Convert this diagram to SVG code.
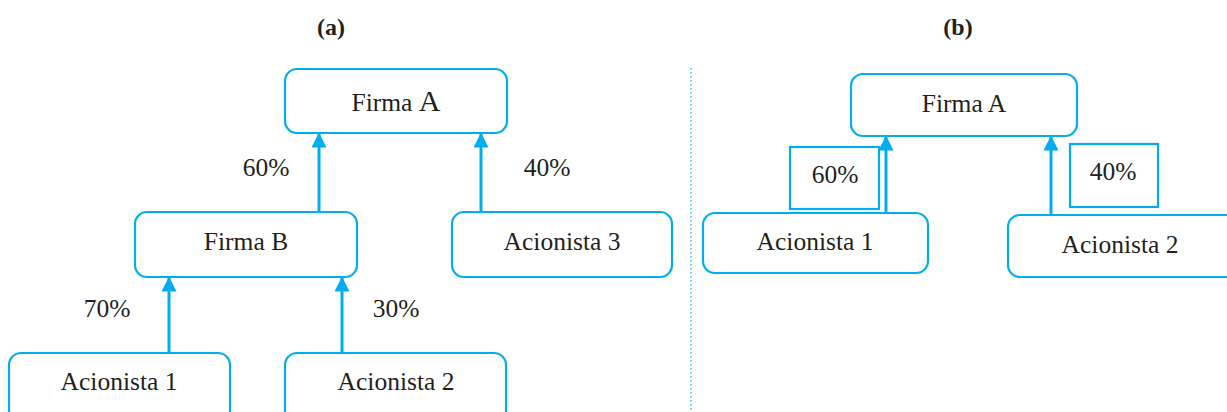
<svg xmlns="http://www.w3.org/2000/svg" width="1227" height="412" viewBox="0 0 1227 412">
<style>
.box{fill:#fff;stroke:#00aeef;stroke-width:2.2}
.lbl{fill:#fff;stroke:#00aeef;stroke-width:2.2}
.t{font-family:'Liberation Serif',serif;font-size:25.5px;fill:#231f20;text-anchor:middle}
.h{font-family:'Liberation Serif',serif;font-size:24px;font-weight:bold;fill:#231f20;text-anchor:middle}
.c{stroke:#00aeef;stroke-width:3;fill:none;marker-end:url(#ah)}
</style>
<defs>
<marker id="ah" viewBox="0 0 10 10" refX="9" refY="5" markerWidth="5" markerHeight="5" markerUnits="strokeWidth" orient="auto">
<path d="M0,0 L10,5 L0,10 z" fill="#00aeef"/>
</marker>
</defs>
<rect width="1227" height="412" fill="#fff"/>
<text class="h" x="331" y="35">(a)</text>
<text class="h" x="958" y="35">(b)</text>
<line x1="691" y1="68" x2="691" y2="412" stroke="#00aeef" stroke-width="1.2" stroke-dasharray="1.5,2.5"/>
<g id="connectors">
<line class="c" x1="319" y1="212" x2="319" y2="134"/>
<line class="c" x1="481" y1="212" x2="481" y2="134"/>
<line class="c" x1="169" y1="353" x2="169" y2="278"/>
<line class="c" x1="342" y1="353" x2="342" y2="278"/>
<line class="c" x1="886" y1="213" x2="886" y2="137"/>
<line class="c" x1="1051" y1="215" x2="1051" y2="137"/>
</g>
<g id="a-firmaA"><rect class="box" x="285" y="69" width="222" height="64" rx="12"/><text class="t" x="396" y="111">Firma <tspan font-size="30">A</tspan></text></g>
<g id="a-firmaB"><rect class="box" x="135" y="212" width="222" height="65" rx="12"/><text class="t" x="246" y="250">Firma B</text></g>
<g id="a-acionista3"><rect class="box" x="452" y="212" width="220" height="65" rx="12"/><text class="t" x="562" y="250">Acionista 3</text></g>
<g id="a-acionista1"><rect class="box" x="9" y="353" width="221" height="70" rx="12"/><text class="t" x="119" y="390">Acionista 1</text></g>
<g id="a-acionista2"><rect class="box" x="285" y="353" width="221" height="70" rx="12"/><text class="t" x="396" y="390">Acionista 2</text></g>
<g id="a-labels">
<text class="t" x="266" y="176">60%</text>
<text class="t" x="547" y="176">40%</text>
<text class="t" x="107" y="317">70%</text>
<text class="t" x="396" y="317">30%</text>
</g>
<g id="b-firmaA"><rect class="box" x="851" y="74" width="226" height="62" rx="12"/><text class="t" x="964" y="112">Firma A</text></g>
<g id="b-acionista1"><rect class="box" x="703" y="213" width="225" height="60" rx="12"/><text class="t" x="815" y="250">Acionista 1</text></g>
<g id="b-acionista2"><rect class="box" x="1008" y="215" width="235" height="62" rx="12"/><text class="t" x="1120" y="253">Acionista 2</text></g>
<g id="b-label60"><rect class="lbl" x="790" y="147" width="89" height="62"/><text class="t" x="835" y="183">60%</text></g>
<g id="b-label40"><rect class="lbl" x="1070" y="144" width="88" height="63"/><text class="t" x="1113" y="180">40%</text></g>
</svg>
